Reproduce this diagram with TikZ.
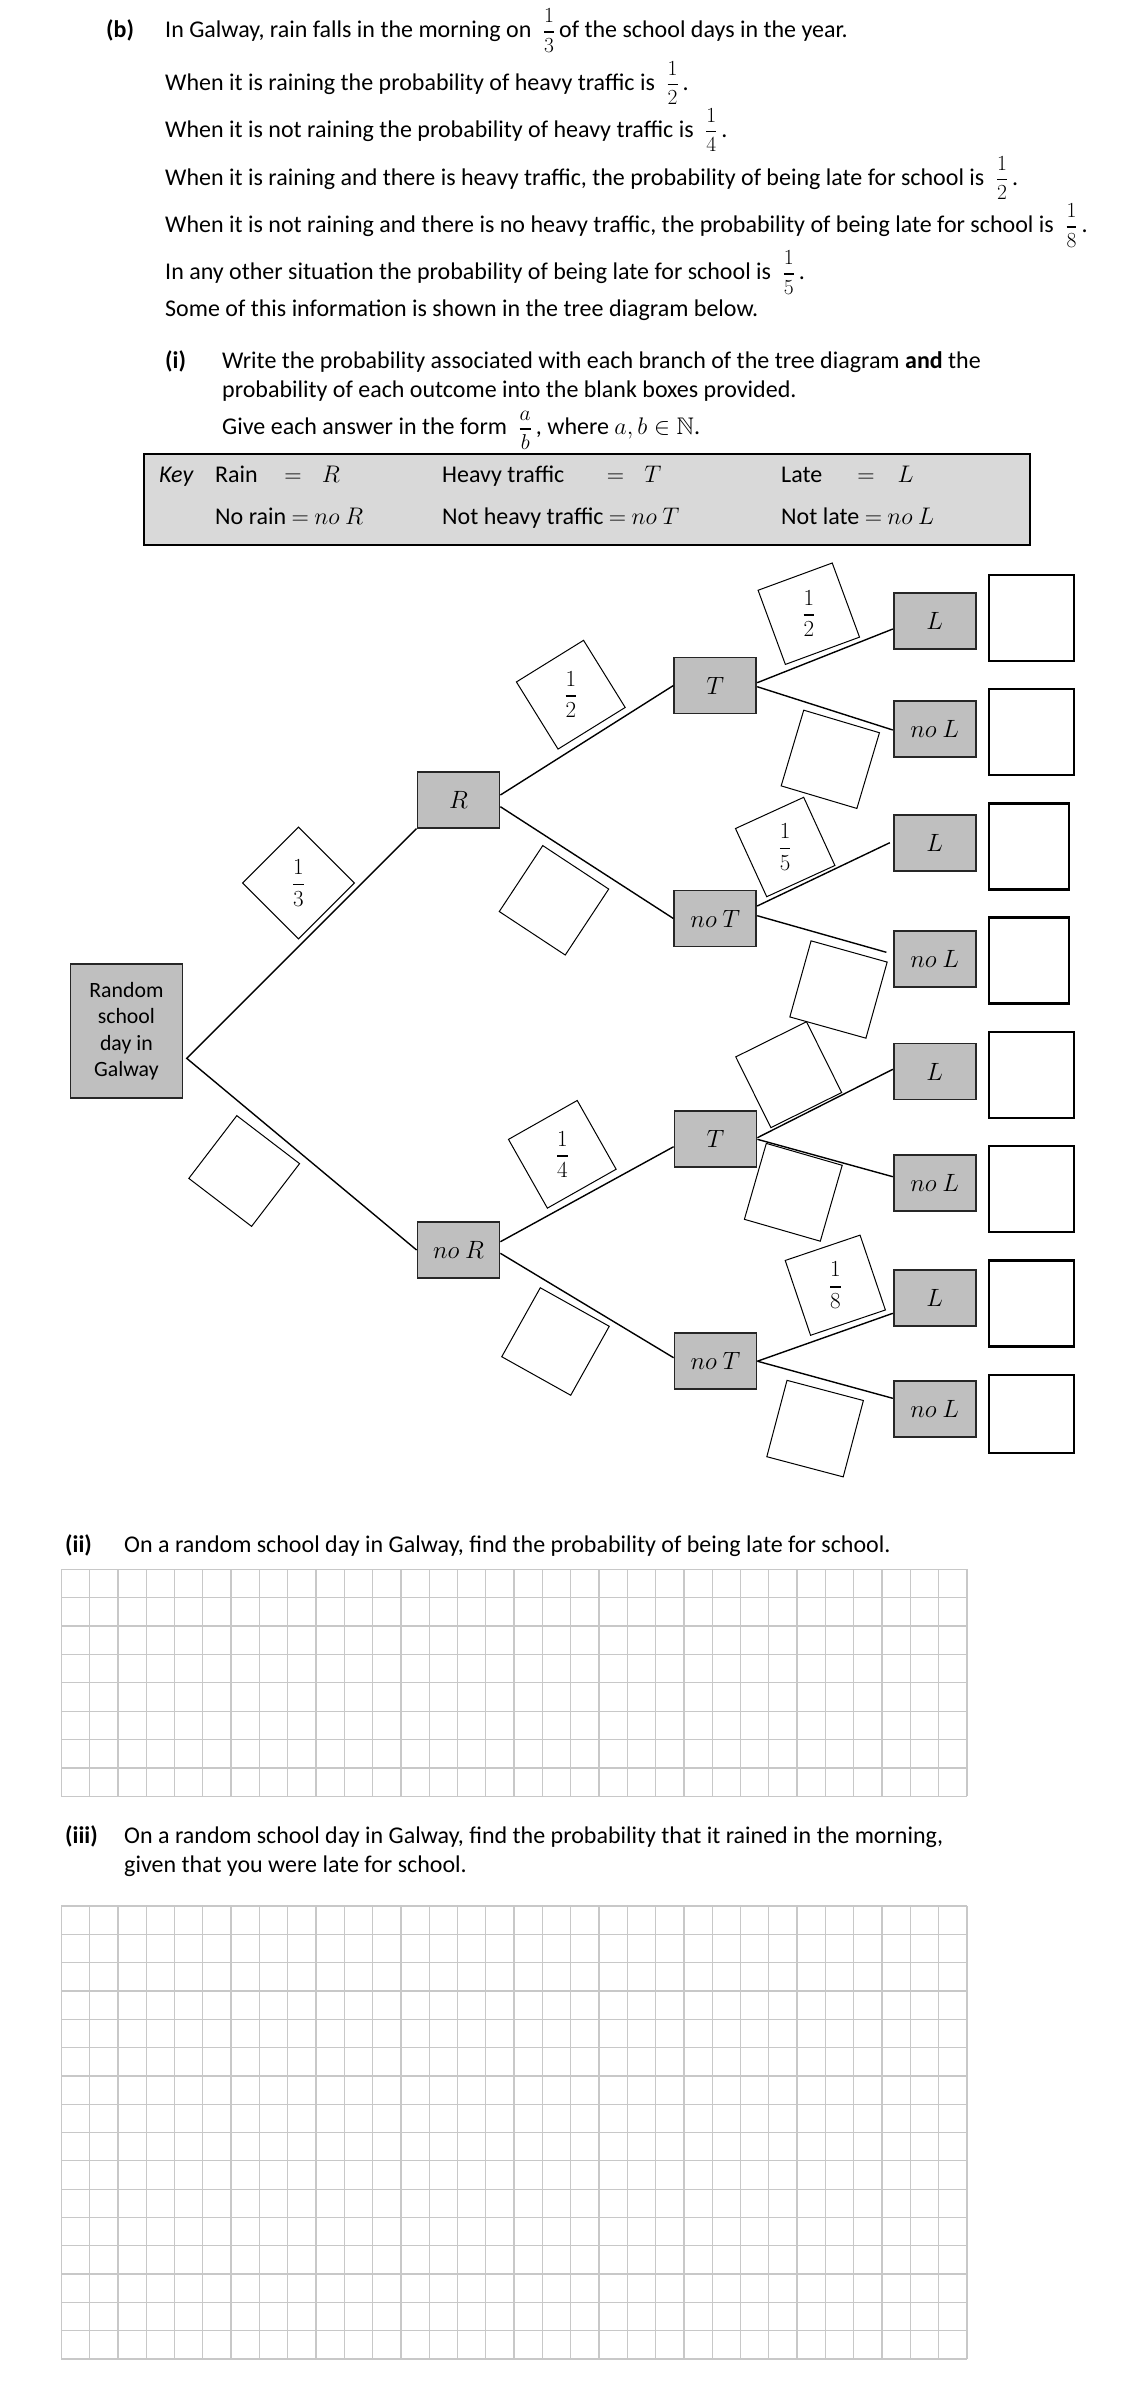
\RequirePackage{fix-cm}
\documentclass[tikz,border=0pt]{standalone}
\usepackage{amsmath}
\usepackage{amssymb}
\usepackage[no-math]{fontspec}
\setmainfont{Carlito}
\usetikzlibrary{calc}
\definecolor{treegrey}{RGB}{191,191,191}
\definecolor{keygrey}{RGB}{217,217,217}
\definecolor{gridgrey}{RGB}{200,200,200}
\newcommand\fr[2]{\hspace{6pt}{\fontsize{21.5}{22}\selectfont$\genfrac{}{}{1.5pt}{0}{#1}{#2}$}\hspace{4pt}}
\newcommand\frb[2]{{\fontsize{23}{24}\selectfont$\genfrac{}{}{1.8pt}{0}{#1}{#2}$}}
\begin{document}
\begin{tikzpicture}[x=1pt,y=-1pt,
  txt/.style={anchor=base west,inner sep=0pt,font=\fontsize{24}{29}\selectfont},
  ctxt/.style={anchor=base,inner sep=0pt,font=\fontsize{24}{29}\selectfont},
  tnode/.style={draw=black!85,line width=1.8pt,fill=treegrey,minimum width=82pt,minimum height=56pt,inner sep=0pt,font=\fontsize{25}{29}\selectfont},
  rootbox/.style={draw=black!85,line width=1.8pt,fill=treegrey,minimum width=112pt,minimum height=134pt,inner sep=0pt,align=center,font=\fontsize{21.8}{26.5}\selectfont},
  ansbox/.style={draw=black,line width=2.3pt,fill=white,minimum width=85pt,minimum height=86pt,inner sep=0pt},
  lblbox/.style={draw=black,line width=1pt,fill=white,minimum width=79pt,minimum height=79pt,inner sep=0pt},
  conn/.style={line width=1.4pt,black},
  gridl/.style={line width=1.3pt,gridgrey},
  keybox/.style={draw=black,line width=1.6pt,fill=keygrey,minimum width=886pt,minimum height=91pt,inner sep=0pt}
]
\useasboundingbox (0,0) rectangle (1148,2396);

% ---------- top text ----------
\node[txt] (bb) at (106,37.5) {\bfseries (b)};
\node[txt] (b1) at (165,37.5) {In Galway, rain falls in the morning on \fr13of the school days in the year.};
\node[txt] (b2) at (165,90) {When it is raining the probability of heavy traffic is \fr12.};
\node[txt] (b3) at (165,137) {When it is not raining the probability of heavy traffic is \fr14.};
\node[txt] (b4) at (165,185) {When it is raining and there is heavy traffic, the probability of being late for school is \fr12.};
\node[txt] (b5) at (165,232.3) {When it is not raining and there is no heavy traffic, the probability of being late for school is \fr18.};
\node[txt] (b6) at (165,279.3) {In any other situation the probability of being late for school is \fr15.};
\node[txt] (b7) at (165,316) {Some of this information is shown in the tree diagram below.};

\node[txt] (ii0) at (165,368) {\bfseries (i)};
\node[txt] (i1) at (222,368) {Write the probability associated with each branch of the tree diagram \textbf{and} the};
\node[txt] (i2) at (222,397) {probability of each outcome into the blank boxes provided.};
\node[txt] (i3) at (222,434.6) {Give each answer in the form \fr ab, where $a, b \in \mathbb{N}$.};

% ---------- key ----------
\node[keybox] (key) at (587,499.5) {};
\node[txt] (k0) at (159,482.5) {\itshape Key};
\node[txt] (k1) at (215,482.5) {Rain};
\node[ctxt] (k1e) at (293,482.5) {$=$};
\node[ctxt] (k1v) at (331,482.5) {$R$};
\node[txt] (k2) at (442,482.5) {Heavy traffic};
\node[ctxt] (k2e) at (615.5,482.5) {$=$};
\node[ctxt] (k2v) at (653,482.5) {$T$};
\node[txt] (k3) at (781,482.5) {Late};
\node[ctxt] (k3e) at (866,482.5) {$=$};
\node[ctxt] (k3v) at (905.5,482.5) {$L$};
\node[txt] (k4) at (215,524) {No rain $=$ $no\ R$};
\node[txt] (k5) at (442,524) {Not heavy traffic $=$ $no\ T$};
\node[txt] (k6) at (781,524) {Not late $=$ $no\ L$};

% ---------- tree nodes ----------
\node[rootbox] (root) at (126.4,1031) {Random\\school\\day in\\Galway};
\coordinate (j) at (186.7,1058.3);
\node[tnode] (R) at (458.5,799.7) {$R$};
\node[tnode] (noR) at (458.5,1250) {$no\ R$};
\node[tnode] (T1) at (715.3,685.5) {$T$};
\node[tnode] (noT1) at (715.3,918.5) {$no\ T$};
\node[tnode] (T2) at (715.5,1139) {$T$};
\node[tnode] (noT2) at (715.5,1361.2) {$no\ T$};
\node[tnode] (L1) at (934.7,621) {$L$};
\node[tnode] (noL1) at (934.7,729.2) {$no\ L$};
\node[tnode] (L2) at (934.7,843.3) {$L$};
\node[tnode] (noL2) at (934.7,958.8) {$no\ L$};
\node[tnode] (L3) at (934.7,1071.5) {$L$};
\node[tnode] (noL3) at (934.7,1182.8) {$no\ L$};
\node[tnode] (L4) at (934.7,1298.2) {$L$};
\node[tnode] (noL4) at (934.7,1409.3) {$no\ L$};

% ---------- answer boxes ----------
\node[ansbox] (a1) at (1031.3,617.8) {};
\node[ansbox] (a2) at (1031.3,732.2) {};
\node[ansbox,minimum width=80pt] (a3) at (1028.7,846.5) {};
\node[ansbox,minimum width=80pt] (a4) at (1028.7,960.5) {};
\node[ansbox] (a5) at (1031.3,1075) {};
\node[ansbox] (a6) at (1031.3,1189.2) {};
\node[ansbox] (a7) at (1031.3,1303.5) {};
\node[ansbox,minimum height=78pt] (a8) at (1031.3,1414.2) {};

% ---------- connectors ----------
\draw[conn] (R.south west) -- (j) -- (noR.west);
\draw[conn] ($(R.east)+(0,-4.7)$) -- (T1.west);
\draw[conn] ($(R.east)+(0,7)$) -- (noT1.west);
\draw[conn] ($(noR.east)+(0,-8.3)$) -- ($(T2.west)+(0,7.7)$);
\draw[conn] ($(noR.east)+(0,3.3)$) -- ($(noT2.west)+(0,-3.5)$);
\draw[conn] ($(T1.east)+(0,-2.8)$) -- ($(L1.west)+(0,8)$);
\draw[conn] ($(T1.east)+(0,1.2)$) -- ($(noL1.west)+(0,0.8)$);
\draw[conn] ($(noT1.east)+(0,-12.5)$) -- ($(L2.west)+(-3,-0.6)$);
\draw[conn] ($(noT1.east)+(0,-2.8)$) -- ($(noL2.west)+(-6.4,-6.5)$);
\draw[conn] ($(T2.east)+(0,-1.3)$) -- ($(L3.west)+(0,-2.2)$);
\draw[conn] ($(T2.east)+(0,0.3)$) -- ($(noL3.west)+(0,-6.1)$);
\draw[conn] (noT2.east) -- ($(L4.west)+(0,15.1)$);
\draw[conn] (noT2.east) -- ($(noL4.west)+(0,-11)$);

% ---------- branch label boxes ----------
\node[lblbox,rotate=45] (q1) at (298.5,883) {};
\node (q1t) at (q1) {\frb13};
\node[lblbox,rotate=-37.4] (q2) at (244.2,1171) {};
\node[lblbox,rotate=31.8] (q3) at (570.8,694.7) {};
\node (q3t) at (q3) {\frb12};
\node[lblbox,rotate=-33.4] (q4) at (554,900.3) {};
\node[lblbox,rotate=29.5] (q5) at (562.3,1154.3) {};
\node (q5t) at (q5) {\frb14};
\node[lblbox,rotate=-29.2] (q6) at (555.5,1341.5) {};
\node[lblbox,rotate=20.2] (q7) at (808.8,613.7) {};
\node (q7t) at (q7) {\frb12};
\node[lblbox,rotate=-16.6] (q8) at (830.3,759.3) {};
\node[lblbox,rotate=24.6,minimum width=75pt,minimum height=75pt] (q9) at (785.2,847) {};
\node (q9t) at (q9) {\frb15};
\node[lblbox,rotate=-15.6] (q10) at (838.5,989.5) {};
\node[lblbox,rotate=26.4] (q11) at (788.7,1074.7) {};
\node[lblbox,rotate=-16.1] (q12) at (793.3,1192.3) {};
\node[lblbox,rotate=18.7] (q13) at (835.3,1285.2) {};
\node (q13t) at (q13) {\frb18};
\node[lblbox,rotate=-14.8] (q14) at (815.1,1428.6) {};

% ---------- part (ii) ----------
\node[txt] (p2) at (65,1552) {\bfseries (ii)};
\node[txt] (p2t) at (124,1552) {On a random school day in Galway, find the probability of being late for school.};
\foreach \i in {0,...,32} \draw[gridl] ({61.3+\i*28.3},1569.3) -- ({61.3+\i*28.3},1796.3);
\foreach \j in {0,...,8} \draw[gridl] (61.3,{1569.3+\j*28.375}) -- (967,{1569.3+\j*28.375});

% ---------- part (iii) ----------
\node[txt] (p3) at (65,1843.5) {\bfseries (iii)};
\node[txt] (p3t) at (124,1843.5) {On a random school day in Galway, find the probability that it rained in the morning,};
\node[txt] (p3u) at (124,1872.5) {given that you were late for school.};
\foreach \i in {0,...,32} \draw[gridl] ({61.3+\i*28.3},1906) -- ({61.3+\i*28.3},2359);
\foreach \j in {0,...,16} \draw[gridl] (61.3,{1906+\j*28.3125}) -- (967,{1906+\j*28.3125});
\end{tikzpicture}
\end{document}
